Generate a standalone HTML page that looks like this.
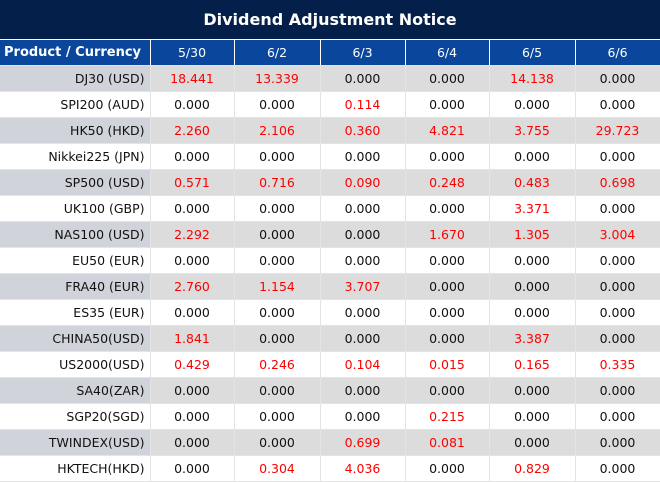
<!DOCTYPE html>
<html><head><style>
*{margin:0;padding:0;box-sizing:border-box}
body{width:660px;height:483px;background:#fff;font-family:"DejaVu Sans","Liberation Sans",sans-serif;overflow:hidden}
.title{height:40px;background:#041f4a;color:#fff;font-weight:bold;font-size:16px;text-align:center;line-height:40px;border-bottom:1px solid #fff}
table{border-collapse:collapse;table-layout:fixed;width:660px}
td{height:26px;font-size:12.5px;text-align:center;color:#111;border-right:1px solid #e4e4e4;border-bottom:1px solid #e4e4e4;padding:0;white-space:nowrap}
tr.h td{background:#0a479c;color:#fff;border-right:1px solid #fff;height:25px}
tr.h td:first-child{font-weight:bold;text-align:left;padding-left:4px;font-size:13px}
td:first-child{text-align:right;padding-right:5px}
tr.g td{background:#dcdcdc}
tr.g td:first-child{background:#d0d3da}
.r{color:#f00}
</style></head><body>
<div class="title">Dividend Adjustment Notice</div>
<table>
<col style="width:150px"><col style="width:84px"><col style="width:86px"><col style="width:85px"><col style="width:84px"><col style="width:86px"><col style="width:85px">
<tr class="h"><td>Product / Currency</td><td>5/30</td><td>6/2</td><td>6/3</td><td>6/4</td><td>6/5</td><td>6/6</td></tr>
<tr class="g"><td>DJ30 (USD)</td><td class="r">18.441</td><td class="r">13.339</td><td>0.000</td><td>0.000</td><td class="r">14.138</td><td>0.000</td></tr>
<tr><td>SPI200 (AUD)</td><td>0.000</td><td>0.000</td><td class="r">0.114</td><td>0.000</td><td>0.000</td><td>0.000</td></tr>
<tr class="g"><td>HK50 (HKD)</td><td class="r">2.260</td><td class="r">2.106</td><td class="r">0.360</td><td class="r">4.821</td><td class="r">3.755</td><td class="r">29.723</td></tr>
<tr><td>Nikkei225 (JPN)</td><td>0.000</td><td>0.000</td><td>0.000</td><td>0.000</td><td>0.000</td><td>0.000</td></tr>
<tr class="g"><td>SP500 (USD)</td><td class="r">0.571</td><td class="r">0.716</td><td class="r">0.090</td><td class="r">0.248</td><td class="r">0.483</td><td class="r">0.698</td></tr>
<tr><td>UK100 (GBP)</td><td>0.000</td><td>0.000</td><td>0.000</td><td>0.000</td><td class="r">3.371</td><td>0.000</td></tr>
<tr class="g"><td>NAS100 (USD)</td><td class="r">2.292</td><td>0.000</td><td>0.000</td><td class="r">1.670</td><td class="r">1.305</td><td class="r">3.004</td></tr>
<tr><td>EU50 (EUR)</td><td>0.000</td><td>0.000</td><td>0.000</td><td>0.000</td><td>0.000</td><td>0.000</td></tr>
<tr class="g"><td>FRA40 (EUR)</td><td class="r">2.760</td><td class="r">1.154</td><td class="r">3.707</td><td>0.000</td><td>0.000</td><td>0.000</td></tr>
<tr><td>ES35 (EUR)</td><td>0.000</td><td>0.000</td><td>0.000</td><td>0.000</td><td>0.000</td><td>0.000</td></tr>
<tr class="g"><td>CHINA50(USD)</td><td class="r">1.841</td><td>0.000</td><td>0.000</td><td>0.000</td><td class="r">3.387</td><td>0.000</td></tr>
<tr><td>US2000(USD)</td><td class="r">0.429</td><td class="r">0.246</td><td class="r">0.104</td><td class="r">0.015</td><td class="r">0.165</td><td class="r">0.335</td></tr>
<tr class="g"><td>SA40(ZAR)</td><td>0.000</td><td>0.000</td><td>0.000</td><td>0.000</td><td>0.000</td><td>0.000</td></tr>
<tr><td>SGP20(SGD)</td><td>0.000</td><td>0.000</td><td>0.000</td><td class="r">0.215</td><td>0.000</td><td>0.000</td></tr>
<tr class="g"><td>TWINDEX(USD)</td><td>0.000</td><td>0.000</td><td class="r">0.699</td><td class="r">0.081</td><td>0.000</td><td>0.000</td></tr>
<tr><td>HKTECH(HKD)</td><td>0.000</td><td class="r">0.304</td><td class="r">4.036</td><td>0.000</td><td class="r">0.829</td><td>0.000</td></tr>
</table>
</body></html>
